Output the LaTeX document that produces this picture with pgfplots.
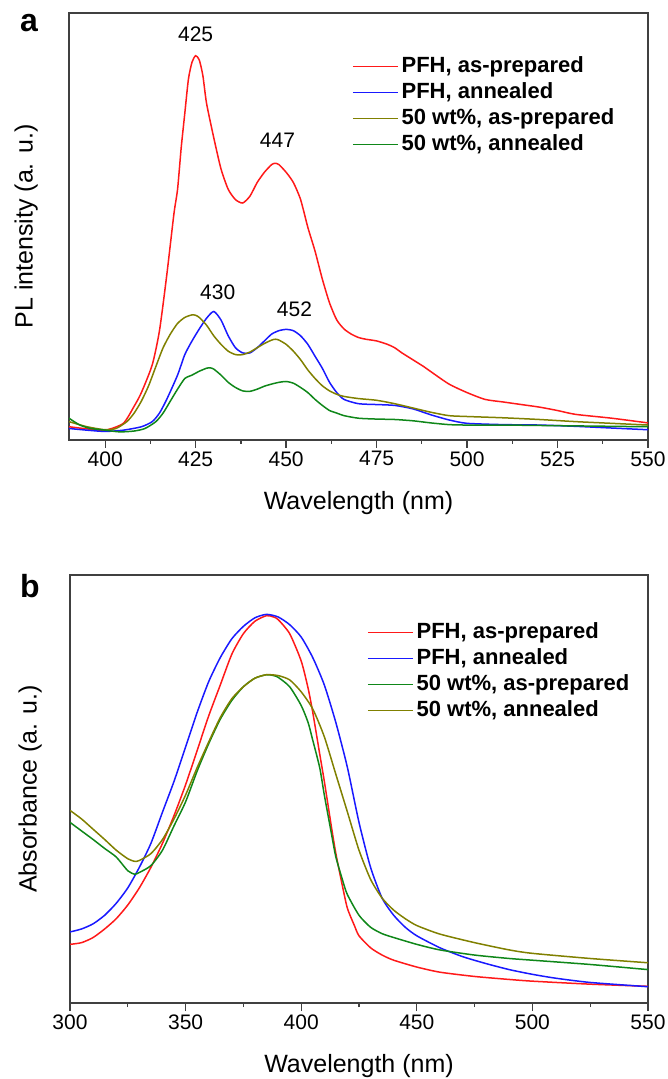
\documentclass[border=0pt]{standalone}
\usepackage{fontspec}
\setmainfont{Liberation Sans}
\usepackage{pgfplots}
\pgfplotsset{compat=1.18}
\definecolor{pred}{RGB}{255,25,25}
\definecolor{pblue}{RGB}{25,25,255}
\definecolor{polive}{RGB}{128,128,0}
\definecolor{pgreen}{RGB}{15,135,25}

\pgfplotsset{
  spec/.style={
    scale only axis,
    anchor=south west,
    ymin=0, ymax=100,
    ytick=\empty,
    xtick pos=bottom,
    xtick align=outside,
    minor x tick num=1,
    major tick length=8pt,
    minor tick length=4pt,
    axis line style={black!75, line width=1.6pt},
    every tick/.style={black!75, line width=1.3pt},
    /pgf/number format/assume math mode=true,
    ticklabel style={font=\fontsize{21}{25}\selectfont},
    label style={font=\fontsize{25}{30}\selectfont},
    xlabel={Wavelength (nm)},
    xlabel style={at={(axis description cs:0.5,-0.148)}, anchor=center},
    ylabel style={anchor=center},
    legend cell align=left,
    legend image code/.code={\draw[#1] (0pt,0pt) -- (45pt,0pt);},
    legend style={draw=none, fill=none, inner sep=0pt, outer sep=0pt,
      anchor=north west, row sep=5pt, column sep=3pt,
      font=\bfseries\fontsize{22}{26}\selectfont,
      nodes={inner sep=0pt, text height=16pt, text depth=5pt}},
    every axis plot/.append style={line width=1.5pt, smooth, tension=0.4},
  },
}

\begin{document}
\begin{tikzpicture}
\useasboundingbox (0,0) rectangle (668pt,1079pt);

% ---- (a) PL spectra ----
\begin{axis}[spec, at={(69pt,639pt)}, width=579pt, height=427pt,
  xmin=390, xmax=550, xtick={400,425,...,550},
  ylabel={PL intensity (a. u.)},
  ylabel style={at={(axis description cs:-0.074,0.5)}},
  legend style={at={(axis description cs:0.489,0.899)}}]
\addplot[pred] coordinates {
 (390,3.1)(395,2.6)(400,2.3)(405,3.9)(408,7.9)(410,11.1)(413,17.6)(415,25.6)
 (417,38.5)(419,53)(420,58.7)(421,68.4)(422,76.5)(423,84.5)(424,88.5)(425,90)
 (426,89)(427,85.3)(428,78.9)(430,70.8)(432,63.5)(434,58.7)(436,56.3)(438,55.5)
 (440,57.1)(442,60.3)(444,62.7)(446,64.5)(447,64.8)(448,64.5)(450,62.7)(452,60.3)
 (454,56.3)(456,49.8)(458,44.2)(460,37.7)(462,32.1)(464,28.1)(466,26)(468,24.8)
 (470,24)(472,23.6)(475,23.2)(478,22.4)(480,21.6)(482,20.4)(485,18.8)(488,17.2)
 (490,16)(495,13.1)(500,11.1)(505,9.5)(510,8.9)(515,8.3)(520,7.7)(525,6.9)
 (530,6)(540,5.1)(550,4)};
\addlegendentry{PFH, as-prepared}
\addplot[pblue] coordinates {
 (390,2.7)(395,2.3)(400,2.0)(405,2.3)(410,3.1)(413,4.3)(415,6.3)(417,9.5)
 (420,15.2)(422,20)(424,23.2)(426,26)(428,28.5)(430,30.1)(432,28.1)(434,24.4)
 (436,21.6)(438,20.4)(440,20.4)(442,21.6)(444,23.2)(446,24.8)(448,25.6)(450,25.9)
 (452,25.6)(454,24.4)(456,22.4)(458,19.6)(460,16.8)(462,13.5)(464,11.1)(466,9.5)
 (470,8.5)(475,8.3)(480,8.1)(485,7.3)(490,5.9)(495,4.7)(500,3.9)(510,3.6)
 (520,3.5)(530,3.2)(540,2.8)(550,2.4)};
\addlegendentry{PFH, annealed}
\addplot[polive] coordinates {
 (390,4.3)(395,3.1)(400,2.4)(403,2.7)(406,4.3)(408,6.3)(410,9.1)(412,12.7)
 (414,17.2)(416,21.6)(418,24.8)(420,27.3)(422,28.7)(424,29.3)(425,29.2)(426,28.7)
 (428,26.9)(430,24.4)(432,22.4)(434,20.8)(436,20)(438,20)(440,20.6)(442,21.6)
 (444,22.6)(446,23.4)(447,23.6)(448,23.4)(450,22.4)(452,20.8)(454,18.8)(456,16.4)
 (458,14.4)(460,12.7)(462,11.5)(464,10.7)(466,10.2)(470,9.7)(475,9.3)(480,8.5)
 (485,7.5)(490,6.5)(495,5.7)(500,5.5)(510,5.2)(520,4.8)(530,4.3)(540,3.9)(550,3.5)};
\addlegendentry{50 wt\%, as-prepared}
\addplot[pgreen] coordinates {
 (390,5.1)(393,3.5)(396,2.7)(400,2.3)(404,1.9)(408,2.1)(411,2.7)(414,4.3)
 (416,6.3)(418,9.1)(420,11.9)(422,14.4)(424,15.2)(426,16.1)(428,16.8)(429,16.9)
 (430,16.6)(432,15.2)(434,13.5)(436,12.3)(438,11.5)(440,11.4)(442,11.9)(444,12.6)
 (446,13.1)(448,13.5)(450,13.7)(452,13.3)(454,12.3)(456,11.1)(458,9.5)(460,8.1)
 (462,6.9)(464,6.3)(466,5.7)(470,5.1)(475,4.9)(480,4.8)(485,4.5)(490,4)
 (495,3.6)(500,3.5)(510,3.5)(520,3.4)(530,3.3)(540,3.2)(550,3.1)};
\addlegendentry{50 wt\%, annealed}
\node[font=\fontsize{21}{25}\selectfont] at (axis cs:425,95) {425};
\node[font=\fontsize{21}{25}\selectfont] at (axis cs:447.6,70.2) {447};
\node[font=\fontsize{21}{25}\selectfont] at (axis cs:431.1,34.5) {430};
\node[font=\fontsize{21}{25}\selectfont] at (axis cs:452.3,30.7) {452};
\end{axis}

% ---- (b) absorbance ----
\begin{axis}[spec, at={(70pt,76pt)}, width=578pt, height=428pt,
  xmin=300, xmax=550, xtick={300,350,...,550},
  ylabel={Absorbance (a. u.)},
  ylabel style={at={(axis description cs:-0.069,0.5)}},
  legend style={at={(axis description cs:0.514,0.890)}}]
\addplot[pred] coordinates {
 (300,13.7)(305,14.1)(310,15.3)(315,17.3)(320,19.7)(325,22.9)(330,26.9)(335,31.7)
 (340,37.3)(345,43.8)(350,51)(355,59)(360,67.1)(365,74.3)(370,81.5)(375,86.3)
 (380,89.2)(385,90.5)(388,90.2)(390,89.6)(395,86.3)(400,79.9)(403,73.5)(405,67.9)
 (408,58.2)(410,51.8)(413,41.4)(415,34.9)(418,26.9)(420,22.1)(423,18.1)(425,15.7)
 (430,12.9)(435,11.2)(440,10)(450,8.4)(460,7.2)(475,6.2)(490,5.5)(500,5.1)
 (525,4.4)(550,3.9)};
\addlegendentry{PFH, as-prepared}
\addplot[pblue] coordinates {
 (300,16.6)(305,17.3)(310,18.5)(315,20.5)(320,23.3)(325,26.9)(330,31.7)(335,37.3)
 (340,44.6)(345,51.8)(350,59.8)(355,67.9)(360,75.1)(365,80.7)(370,85.1)(375,88)
 (380,90)(385,90.8)(390,90.2)(395,88.4)(400,85.5)(405,80.7)(410,74.3)(415,65.5)
 (420,55)(425,42.2)(430,31.7)(435,24.5)(440,20.5)(445,17.7)(450,15.7)(460,12.9)
 (470,10.8)(480,9.2)(490,7.8)(500,6.7)(510,5.8)(525,4.8)(550,3.8)};
\addlegendentry{PFH, annealed}
\addplot[pgreen] coordinates {
 (300,42.2)(305,40.2)(310,38.2)(315,36.1)(320,34.1)(325,30.9)(328,30.1)(330,30.5)
 (335,32.1)(340,35.7)(345,41.4)(350,47)(355,54.2)(360,60.6)(365,66.3)(370,70.7)
 (375,73.9)(380,75.9)(385,76.7)(388,76.5)(390,76.1)(395,73.9)(400,69.5)(403,65.5)
 (405,61.4)(408,55)(410,48.6)(413,39.8)(415,34.1)(418,28.5)(420,25.3)(425,20.5)
 (430,17.7)(435,16.2)(440,15.3)(450,13.7)(460,12.4)(475,11.2)(490,10.4)(500,10)
 (525,9)(550,7.8)};
\addlegendentry{50 wt\%, as-prepared}
\addplot[polive] coordinates {
 (300,45)(305,43)(310,40.6)(315,38.2)(320,35.7)(325,33.7)(328,33.1)(330,33.3)
 (335,34.9)(340,38.2)(345,43)(350,48.6)(355,55)(360,61)(365,66.7)(370,71.1)
 (375,73.9)(380,75.9)(385,76.7)(390,76.5)(395,75.5)(400,72.7)(405,68.7)(410,62.2)
 (415,53.4)(420,44.6)(425,35.7)(430,28.9)(435,24.5)(440,21.7)(445,19.7)(450,18.1)
 (460,16.1)(475,14.1)(490,12.4)(500,11.6)(525,10.4)(550,9.4)};
\addlegendentry{50 wt\%, annealed}
\end{axis}

\node[font=\bfseries\fontsize{32}{36}\selectfont] at (29pt,1056pt) {a};
\node[font=\bfseries\fontsize{32}{36}\selectfont] at (30pt,493pt) {b};
\end{tikzpicture}
\end{document}
